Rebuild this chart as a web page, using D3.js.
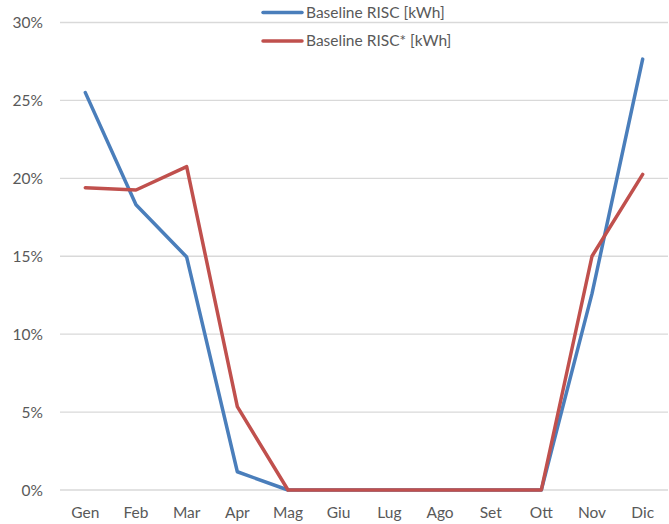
<!DOCTYPE html>
<html>
<head>
<meta charset="utf-8">
<script src="https://cdn.jsdelivr.net/npm/d3@7"></script>
<style>
    body { margin: 0; background: #fff; }
    text { font-family: Lato, "Open Sans", sans-serif; fill: #595959; }
</style>
</head>
<body>
<div id="chart"></div>
<script>
// data
var months = ['Gen', 'Feb', 'Mar', 'Apr', 'Mag', 'Giu', 'Lug', 'Ago', 'Set', 'Ott', 'Nov', 'Dic']
var risc = [25.5, 18.3, 14.95, 1.17, 0, 0, 0, 0, 0, 0, 12.6, 27.65]
var riscStar = [19.4, 19.25, 20.75, 5.35, 0, 0, 0, 0, 0, 0, 15.0, 20.25]
var yTicks = [0, 5, 10, 15, 20, 25, 30]
var seriesNames = ['Baseline RISC [kWh]', 'Baseline RISC* [kWh]']
var seriesColors = ['#4a7ebb', '#c0504d']

var width = 669
var height = 524
var margin = { top: 22.5, bottom: 34, left: 60, right: 1 }

var svg = d3.select('#chart').append('svg')
    .attr('width', width)
    .attr('height', height)

var x = d3.scaleBand()
    .domain(months)
    .range([margin.left, width - margin.right])

var y = d3.scaleLinear()
    .domain([0, 30])
    .range([height - margin.bottom, margin.top])

// gridlines
svg.append('g')
    .selectAll('line')
    .data(yTicks)
    .join('line')
    .attr('x1', margin.left)
    .attr('x2', width - margin.right)
    .attr('y1', d => y(d))
    .attr('y2', d => y(d))
    .attr('stroke', '#d9d9d9')
    .attr('stroke-width', 1.3)

// y axis labels
svg.append('g')
    .attr('transform', 'translate(' + (margin.left - 17) + ',0)')
    .call(d3.axisLeft(y).tickValues(yTicks).tickSize(0).tickFormat(d => d + '%'))
    .call(g => g.select('.domain').remove())
    .call(g => g.selectAll('text')
        .attr('font-size', '15.5px')
        .attr('dy', '0.35em')
        .attr('x', 0))

// x axis labels
svg.append('g')
    .attr('transform', 'translate(0,' + (height - margin.bottom + 14) + ')')
    .call(d3.axisBottom(x).tickSize(0))
    .call(g => g.select('.domain').remove())
    .call(g => g.selectAll('text')
        .attr('font-size', '15.5px')
        .attr('dy', '0.71em'))

var line = d3.line()
    .x((d, i) => x(months[i]) + x.bandwidth() / 2)
    .y(d => y(d))

var allSeries = [risc, riscStar]
svg.append('g')
    .selectAll('path')
    .data(allSeries)
    .join('path')
    .attr('fill', 'none')
    .attr('stroke', (d, i) => seriesColors[i])
    .attr('stroke-width', 3.5)
    .attr('stroke-linejoin', 'round')
    .attr('stroke-linecap', 'round')
    .attr('d', line)

// legend
for (let i = 0; i < seriesNames.length; i++) {
    svg.append('g')
        .call(g => g.append('line')
            .attr('x1', 263)
            .attr('x2', 302)
            .attr('y1', 12.5 + i * 28.5)
            .attr('y2', 12.5 + i * 28.5)
            .attr('stroke', seriesColors[i])
            .attr('stroke-width', 3.5)
            .attr('stroke-linecap', 'round'))
        .call(g => g.append('text')
            .attr('x', 306)
            .attr('y', 12.5 + i * 28.5)
            .attr('dy', '0.35em')
            .attr('font-size', '15.5px')
            .text(seriesNames[i]))
}
</script>
</body>
</html>
